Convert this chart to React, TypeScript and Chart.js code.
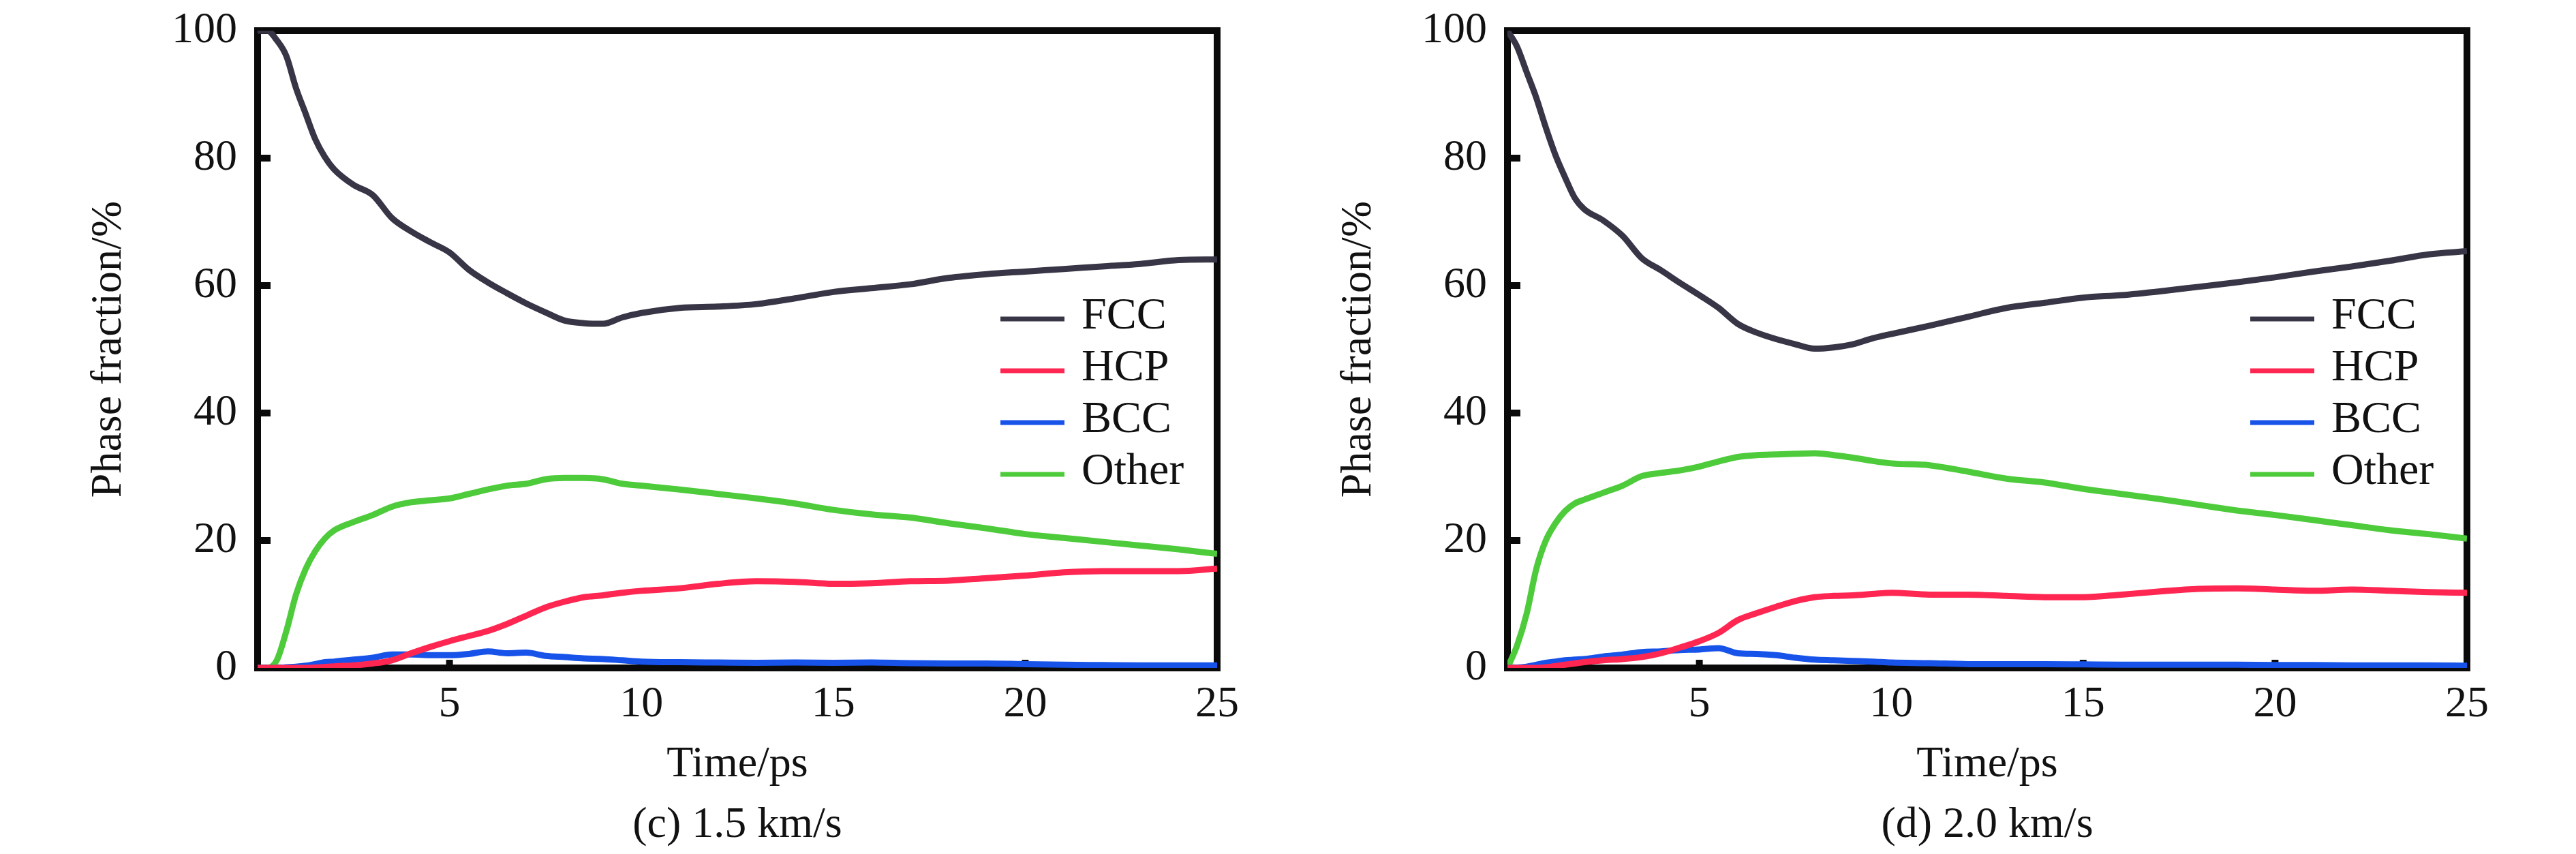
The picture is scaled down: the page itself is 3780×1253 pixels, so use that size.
import { useEffect, useRef } from "react"
import { Chart, registerables } from "chart.js"

Chart.register(...registerables)

// sample times (ps), shared by every series
const times = [
  0, 0.25, 0.5, 0.75, 1, 1.25, 1.5, 1.75, 2, 2.5, 3, 3.5, 4, 4.5, 5, 5.5, 6, 6.5, 7, 7.5, 8, 8.5, 9, 9.5, 10,
  11, 12, 13, 14, 15, 16, 17, 18, 19, 20, 21, 22, 23, 24, 25,
]

// (c) 1.5 km/s
const fccC = [
  100, 100, 98.5, 96, 91, 87, 83, 80.2, 78.2, 75.8, 74.2, 70.6, 68.5, 66.8, 65.2, 62.5, 60.5, 58.8, 57.2, 55.8, 54.5,
  54.1, 54, 55, 55.7, 56.5, 56.7, 57.1, 58, 59, 59.6, 60.2, 61.2, 61.8, 62.2, 62.6, 63, 63.4, 64, 64.1,
]
const hcpC = [
  0, 0, 0, 0, 0, 0, 0.05, 0.15, 0.25, 0.4, 0.7, 1.2, 2.3, 3.3, 4.2, 5, 5.8, 6.9, 8.2, 9.5, 10.4, 11.1, 11.4, 11.8,
  12.1, 12.5, 13.2, 13.6, 13.5, 13.2, 13.3, 13.6, 13.7, 14.1, 14.5, 15, 15.2, 15.2, 15.2, 15.6,
]
const bccC = [
  0, 0, 0, 0.1, 0.2, 0.35, 0.6, 0.9, 1, 1.3, 1.6, 2.1, 2.1, 2, 2, 2.2, 2.6, 2.3, 2.4, 1.9, 1.7, 1.5, 1.4, 1.2, 1,
  0.9, 0.85, 0.8, 0.85, 0.8, 0.85, 0.75, 0.7, 0.7, 0.6, 0.5, 0.45, 0.4, 0.4, 0.4,
]
const otherC = [
  0, 0, 1.2, 5.8, 11.5, 15.5, 18.3, 20.3, 21.6, 22.9, 24, 25.3, 26, 26.3, 26.6, 27.3, 28, 28.6, 28.9, 29.6, 29.8,
  29.8, 29.6, 28.9, 28.6, 28, 27.3, 26.6, 25.8, 24.8, 24.1, 23.6, 22.7, 21.9, 21, 20.4, 19.8, 19.2, 18.6, 17.9,
]

// (d) 2.0 km/s
const fccD = [
  100, 97.5, 93.5, 89.5, 84.8, 80.5, 77, 73.8, 72, 70.2, 67.8, 64.3, 62.4, 60.4, 58.5, 56.5, 54, 52.6, 51.6, 50.8,
  50.1, 50.3, 50.8, 51.7, 52.4, 53.7, 55.1, 56.5, 57.3, 58.1, 58.5, 59.1, 59.8, 60.5, 61.3, 62.2, 63, 63.9, 64.9, 65.4,
]
const hcpD = [
  0, 0, 0, 0, 0.1, 0.3, 0.5, 0.7, 0.9, 1.2, 1.4, 1.7, 2.3, 3.2, 4.2, 5.5, 7.5, 8.6, 9.6, 10.5, 11.1, 11.3, 11.4,
  11.6, 11.8, 11.5, 11.5, 11.3, 11.1, 11.1, 11.5, 12, 12.4, 12.5, 12.3, 12.1, 12.3, 12.1, 11.9, 11.8,
]
const bccD = [
  0, 0.05, 0.2, 0.5, 0.8, 1, 1.2, 1.3, 1.4, 1.8, 2.1, 2.5, 2.6, 2.8, 2.9, 3.1, 2.3, 2.2, 2, 1.6, 1.3, 1.2, 1.1, 1,
  0.85, 0.75, 0.6, 0.6, 0.6, 0.55, 0.5, 0.5, 0.5, 0.5, 0.45, 0.45, 0.4, 0.4, 0.4, 0.35,
]
const otherD = [
  0, 3.5, 8.5, 15.5, 20, 22.7, 24.6, 25.8, 26.4, 27.5, 28.6, 30.1, 30.6, 31, 31.6, 32.4, 33.1, 33.4, 33.5, 33.6,
  33.7, 33.4, 33, 32.5, 32.1, 31.8, 30.8, 29.7, 29.1, 28.1, 27.3, 26.5, 25.6, 24.7, 24, 23.2, 22.4, 21.6, 21, 20.3,
]

const phaseNames = ["FCC", "HCP", "BCC", "Other"]
const phaseColors = ["#383646", "#ff2651", "#1753e8", "#4ecb3b"]

const xTicks = [0, 5, 10, 15, 20, 25]
const yTicks = [0, 20, 40, 60, 80, 100]

const FONT = "'Liberation Serif', 'Times New Roman', serif"
const CANVAS_W = 1834
const CANVAS_H = 1253

type Panel = { caption: string; series: number[][] }

const panels: Panel[] = [
  { caption: "(c) 1.5 km/s", series: [fccC, hcpC, bccC, otherC] },
  { caption: "(d) 2.0 km/s", series: [fccD, hcpD, bccD, otherD] },
]

function PhaseChart({ caption, series }: Panel) {
  const chartRef = useRef<HTMLCanvasElement>(null)
  const chartInstance = useRef<Chart | null>(null)

  useEffect(() => {
    if (!chartRef.current) return
    if (chartInstance.current) chartInstance.current.destroy()
    const ctx = chartRef.current.getContext("2d")
    if (!ctx) return

    // frame + inward tick marks, under the lines
    const framePlugin = {
      id: "frame",
      beforeDatasetsDraw(chart: Chart) {
        const { ctx, chartArea: a, scales } = chart
        ctx.save()
        ctx.strokeStyle = "#0a0a0a"
        ctx.lineWidth = 10
        ctx.strokeRect(a.left, a.top, a.right - a.left, a.bottom - a.top)
        for (const t of yTicks.slice(1, -1)) {
          const y = scales.y.getPixelForValue(t)
          ctx.beginPath()
          ctx.moveTo(a.left, y)
          ctx.lineTo(a.left + 19, y)
          ctx.stroke()
        }
        for (const t of xTicks.slice(1, -1)) {
          const x = scales.x.getPixelForValue(t)
          ctx.beginPath()
          ctx.moveTo(x, a.bottom)
          ctx.lineTo(x, a.bottom - 12)
          ctx.stroke()
        }
        ctx.restore()
      },
    }

    // legend inside the plot + caption under the axis title
    const textPlugin = {
      id: "legendAndCaption",
      afterDraw(chart: Chart) {
        const { ctx, chartArea: a } = chart
        ctx.save()
        ctx.font = `66px ${FONT}`
        ctx.textBaseline = "middle"
        chart.data.datasets.forEach((ds, i) => {
          const y = a.top + 423 + i * 76
          ctx.strokeStyle = ds.borderColor as string
          ctx.lineWidth = 7
          ctx.beginPath()
          ctx.moveTo(a.right - 318, y)
          ctx.lineTo(a.right - 224, y)
          ctx.stroke()
          ctx.fillStyle = "#111"
          ctx.textAlign = "left"
          ctx.fillText(ds.label as string, a.right - 199, y - 3)
        })
        ctx.font = `64px ${FONT}`
        ctx.textAlign = "center"
        ctx.fillStyle = "#111"
        ctx.fillText(caption, (a.left + a.right) / 2, 1211)
        ctx.restore()
      },
    }

    chartInstance.current = new Chart(ctx, {
      type: "line",
      data: {
        datasets: series.map((vals, i) => ({
          label: phaseNames[i],
          data: times.map((t, j) => ({ x: t, y: vals[j] })),
          borderColor: phaseColors[i],
          backgroundColor: phaseColors[i],
          borderWidth: 9,
          pointRadius: 0,
          cubicInterpolationMode: "monotone" as const,
        })),
      },
      options: {
        responsive: false,
        animation: false,
        devicePixelRatio: 1,
        layout: { padding: { left: 0, right: CANVAS_W - 1786, top: 45, bottom: 0 } },
        plugins: {
          legend: { display: false },
          tooltip: { enabled: false },
        },
        scales: {
          x: {
            type: "linear",
            min: 0,
            max: 25,
            afterFit: (scale: any) => {
              scale.height = CANVAS_H - 980
              scale.paddingLeft = 0
              scale.paddingRight = 0
            },
            afterBuildTicks: (scale) => {
              scale.ticks = xTicks.map((v) => ({ value: v }))
            },
            grid: { display: false, drawTicks: false },
            border: { display: false },
            ticks: {
              padding: 16,
              color: "#111",
              font: { family: FONT, size: 64 },
              callback: (v) => (v === 0 ? "" : String(v)),
            },
            title: {
              display: true,
              text: "Time/ps",
              color: "#111",
              font: { family: FONT, size: 64 },
              padding: { top: 0, bottom: 92 },
            },
          },
          y: {
            min: 0,
            max: 100,
            afterFit: (scale: any) => {
              scale.width = 378
              scale.paddingTop = 0
              scale.paddingBottom = 0
            },
            afterBuildTicks: (scale) => {
              scale.ticks = yTicks.map((v) => ({ value: v }))
            },
            grid: { display: false, drawTicks: false },
            border: { display: false },
            ticks: {
              padding: 30,
              color: "#111",
              font: { family: FONT, size: 64 },
            },
            title: {
              display: true,
              text: "Phase fraction/%",
              color: "#111",
              font: { family: FONT, size: 64 },
              padding: { top: 122, bottom: 0 },
            },
          },
        },
      },
      plugins: [framePlugin, textPlugin],
    })

    return () => {
      if (chartInstance.current) {
        chartInstance.current.destroy()
        chartInstance.current = null
      }
    }
  }, [caption, series])

  return (
    <canvas
      ref={chartRef}
      width={CANVAS_W}
      height={CANVAS_H}
      style={{ width: CANVAS_W, height: CANVAS_H, display: "block" }}
    />
  )
}

export default function App() {
  return (
    <div
      style={{
        position: "absolute",
        left: 0,
        top: 0,
        width: 3780,
        height: CANVAS_H,
        background: "#fff",
        display: "flex",
      }}
    >
      {panels.map((p) => (
        <PhaseChart key={p.caption} caption={p.caption} series={p.series} />
      ))}
    </div>
  )
}
